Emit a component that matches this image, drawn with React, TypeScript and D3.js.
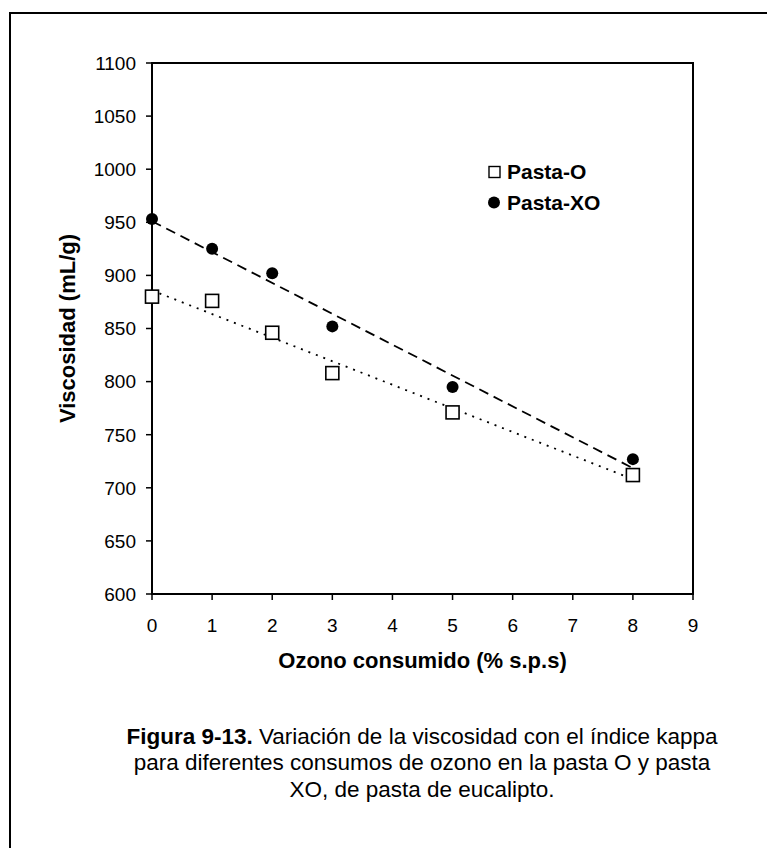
import React from 'react';
import * as d3 from 'd3';

const ozono = [0, 1, 2, 3, 5, 8];
const pastaO = [880, 876, 846, 808, 771, 712];
const pastaXO = [953, 925, 902, 852, 795, 727];
const xTicks = [0, 1, 2, 3, 4, 5, 6, 7, 8, 9];
const yTicks = [600, 650, 700, 750, 800, 850, 900, 950, 1000, 1050, 1100];
const captionLines = [
  'Variación de la viscosidad con el índice kappa',
  'para diferentes consumos de ozono en la pasta O y pasta',
  'XO, de pasta de eucalipto.',
];

const W = 767;
const H = 848;
const plot = { left: 152, right: 693, top: 63, bottom: 594 };
const font = '"Liberation Sans", Arial, sans-serif';

// least squares line through the points
function fit(xs: number[], ys: number[]) {
  const mx = d3.mean(xs)!;
  const my = d3.mean(ys)!;
  const sxy = d3.sum(xs, (x, i) => (x - mx) * (ys[i] - my));
  const sxx = d3.sum(xs, x => (x - mx) * (x - mx));
  const b = sxy / sxx;
  const a = my - b * mx;
  return (x: number) => a + b * x;
}

export default function App() {
  const x = d3.scaleLinear().domain([0, 9]).range([plot.left, plot.right]);
  const y = d3.scaleLinear().domain([600, 1100]).range([plot.bottom, plot.top]);

  const fO = fit(ozono, pastaO);
  const fXO = fit(ozono, pastaXO);
  const ends = [ozono[0], ozono[ozono.length - 1]];
  const trend = (f: (v: number) => number) =>
    d3.line<number>().x(d => x(d)).y(d => y(f(d)))(ends) || '';

  const cx = (plot.left + plot.right) / 2;

  return (
    <svg
      width={W}
      height={H}
      style={{ position: 'absolute', left: 0, top: 0, background: '#fff' }}
      fontFamily={font}
    >
      <rect x={10} y={13} width={W + 20} height={H + 20} fill="none" stroke="#000" strokeWidth={2} />

      {/* plot frame */}
      <rect
        x={plot.left}
        y={plot.top}
        width={plot.right - plot.left}
        height={plot.bottom - plot.top}
        fill="none"
        stroke="#000"
        strokeWidth={2}
      />

      {/* y ticks */}
      {yTicks.map(t => (
        <g key={'y' + t}>
          <line x1={plot.left - 6} x2={plot.left} y1={y(t)} y2={y(t)} stroke="#000" strokeWidth={1.5} />
          <text x={plot.left - 16} y={y(t)} dy="0.36em" textAnchor="end" fontSize={19}>
            {t}
          </text>
        </g>
      ))}

      {/* x ticks */}
      {xTicks.map(t => (
        <g key={'x' + t}>
          <line x1={x(t)} x2={x(t)} y1={plot.bottom} y2={plot.bottom + 6} stroke="#000" strokeWidth={1.5} />
          <text x={x(t)} y={plot.bottom + 38} textAnchor="middle" fontSize={19}>
            {t}
          </text>
        </g>
      ))}

      {/* trend lines */}
      <path d={trend(fXO)} fill="none" stroke="#000" strokeWidth={1.8} strokeDasharray="10,6" />
      <path d={trend(fO)} fill="none" stroke="#000" strokeWidth={1.8} strokeDasharray="2,6" />

      {/* markers */}
      {ozono.map((v, i) => (
        <rect
          key={'o' + i}
          x={x(v) - 6.5}
          y={y(pastaO[i]) - 6.5}
          width={13}
          height={13}
          fill="#fff"
          stroke="#000"
          strokeWidth={1.6}
        />
      ))}
      {ozono.map((v, i) => (
        <circle key={'xo' + i} cx={x(v)} cy={y(pastaXO[i])} r={6} fill="#000" />
      ))}

      {/* legend */}
      <rect x={489} y={166.5} width={11} height={11} fill="#fff" stroke="#000" strokeWidth={1.4} />
      <text x={507} y={178.5} fontSize={21} fontWeight="bold">Pasta-O</text>
      <circle cx={494} cy={202.5} r={6} fill="#000" />
      <text x={507} y={210} fontSize={21} fontWeight="bold">Pasta-XO</text>

      {/* axis titles */}
      <text x={cx} y={668} textAnchor="middle" fontSize={22} fontWeight="bold">
        Ozono consumido (% s.p.s)
      </text>
      <text
        transform={`translate(75,${(plot.top + plot.bottom) / 2}) rotate(-90)`}
        textAnchor="middle"
        fontSize={22}
        fontWeight="bold"
      >
        Viscosidad (mL/g)
      </text>

      {/* caption */}
      <text x={422} y={744} textAnchor="middle" fontSize={22.5}>
        <tspan fontWeight="bold">Figura 9-13.</tspan> {captionLines[0]}
      </text>
      <text x={422} y={770} textAnchor="middle" fontSize={22.5}>
        {captionLines[1]}
      </text>
      <text x={422} y={797} textAnchor="middle" fontSize={22.5}>
        {captionLines[2]}
      </text>
    </svg>
  );
}
